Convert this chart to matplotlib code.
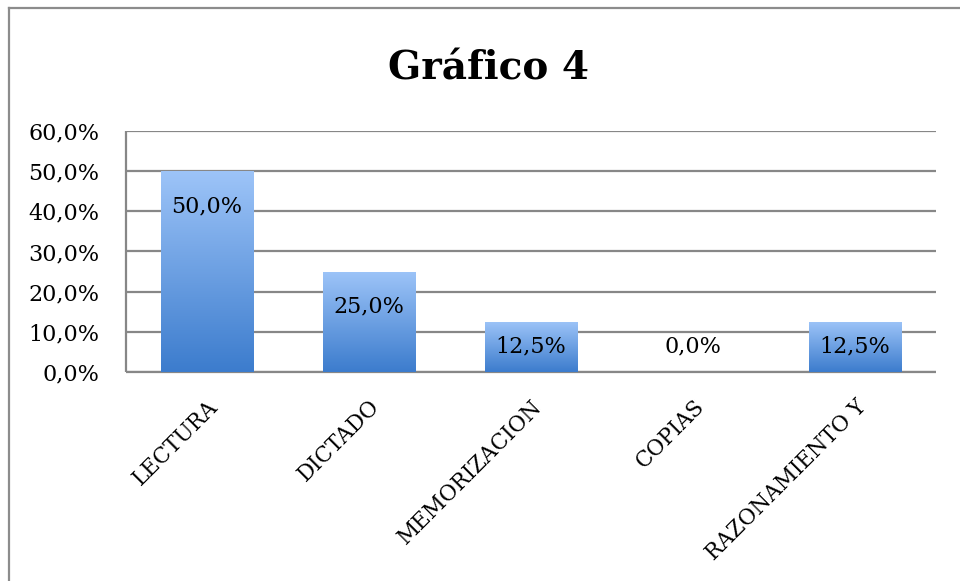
import matplotlib
matplotlib.use("Agg")
import matplotlib.pyplot as plt
import numpy as np
from matplotlib.lines import Line2D
from matplotlib.colors import LinearSegmentedColormap

categories = ["LECTURA", "DICTADO", "MEMORIZACION", "COPIAS", "RAZONAMIENTO Y"]
values = [50.0, 25.0, 12.5, 0.0, 12.5]
yticks = [0, 10, 20, 30, 40, 50, 60]
title = "Gráfico 4"

W, H = 960, 581
fig = plt.figure(figsize=(W / 100, H / 100), dpi=100)
fig.patch.set_facecolor("white")

# outer frame (partially cropped in the reference)
fig.add_artist(Line2D([9 / W, 9 / W], [0, 1 - 8 / H], transform=fig.transFigure,
                      color="#8c8c8c", lw=1.6))
fig.add_artist(Line2D([9 / W, 1], [1 - 8 / H, 1 - 8 / H], transform=fig.transFigure,
                      color="#8c8c8c", lw=1.6))

ax_l, ax_r, ax_t, ax_b = 126, 936, 131, 372
ax = fig.add_axes([ax_l / W, 1 - ax_b / H, (ax_r - ax_l) / W, (ax_b - ax_t) / H])

serif = ["DejaVu Serif"]
x = np.arange(len(categories))
bw = 0.57
bars = ax.bar(x, values, width=bw, color="none", edgecolor="none", zorder=3)

cmap = LinearSegmentedColormap.from_list("g", ["#3c7ccd", "#9dc4f8"])
grad = np.linspace(0, 1, 256).reshape(-1, 1)
for b in bars:
    if b.get_height() <= 0:
        continue
    x0, y0 = b.get_x(), b.get_y()
    im = ax.imshow(grad, cmap=cmap, origin="lower", aspect="auto",
                   extent=[x0, x0 + b.get_width(), y0, y0 + b.get_height()], zorder=3)
    im.set_clip_path(b)

ax.set_xlim(-0.5, len(categories) - 0.5)
ax.set_ylim(0, 60)
ax.set_yticks(yticks)
ax.set_yticklabels([f"{v:.1f}%".replace(".", ",") for v in yticks],
                   fontsize=16, family=serif)
ax.set_xticks(x)
ax.set_xticklabels(categories, rotation=45, ha="right", rotation_mode="anchor",
                   fontsize=15.5, family=serif)
ax.tick_params(axis="both", length=0)
ax.tick_params(axis="y", pad=19)
ax.tick_params(axis="x", pad=17)

ax.grid(axis="y", color="#878787", lw=1.6, zorder=1)
ax.set_axisbelow(True)
for s in ["top", "right"]:
    ax.spines[s].set_visible(False)
for s in ["left", "bottom"]:
    ax.spines[s].set_color("#878787")
    ax.spines[s].set_linewidth(1.6)
    ax.spines[s].set_capstyle("butt")

px_per_unit = (ax_b - ax_t) / 60.0
for xi, v in zip(x, values):
    hpx = v * px_per_unit
    if v == 0:
        off = 26
    else:
        off = -min(35, hpx / 2)
    ax.annotate(f"{v:.1f}%".replace(".", ","), xy=(xi, v), xytext=(0, off),
                textcoords="offset pixels", ha="center", va="center",
                fontsize=16, family=serif, zorder=5)

fig.text(489 / W, 1 - 68 / H, title, ha="center", va="center",
         fontsize=28, fontweight="bold", family=serif)

fig.savefig("out.png", dpi=100)
